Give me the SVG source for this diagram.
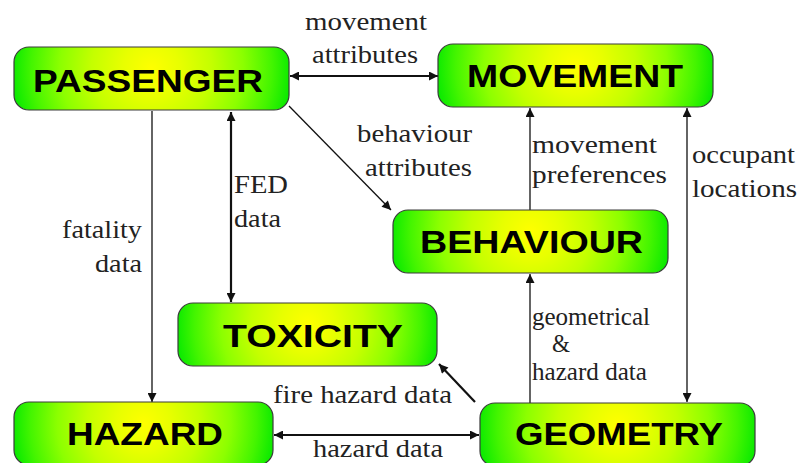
<svg xmlns="http://www.w3.org/2000/svg" width="799" height="463" viewBox="0 0 799 463">
<style>
.box{stroke:#3a3a3a;stroke-width:1.2;fill:url(#g)}
.nt{font-family:"Liberation Sans",Arial,sans-serif;font-weight:bold;font-size:32px;fill:#000}
.lb{font-family:"Liberation Serif","Times New Roman",serif;font-size:25px;fill:#222}
.c{fill:none;stroke:#111}
.t1{stroke-width:1.3}
.t2{stroke-width:2.2}
</style>
<defs>
<radialGradient id="g" cx="0.5" cy="0.08" r="0.52" gradientTransform="scale(1,4.3)">
<stop offset="0" stop-color="#ffff00"/>
<stop offset="0.2" stop-color="#e8ff00"/>
<stop offset="0.42" stop-color="#c4ff00"/>
<stop offset="0.64" stop-color="#8cff00"/>
<stop offset="0.84" stop-color="#44f500"/>
<stop offset="1" stop-color="#00e800"/>
</radialGradient>
<marker id="a" viewBox="0 0 10 10" refX="10" refY="5" markerWidth="12" markerHeight="9" markerUnits="userSpaceOnUse" orient="auto-start-reverse">
<path d="M0,0 L10,5 L0,10 z" fill="#111"/>
</marker>
</defs>
<g id="connectors">
<path class="c t2" d="M290,76 H438" marker-start="url(#a)" marker-end="url(#a)"/>
<path class="c t1" d="M289,106 L391,210" marker-end="url(#a)"/>
<path class="c t1" d="M152,111 V402" marker-end="url(#a)"/>
<path class="c t2" d="M231,112 V302" marker-start="url(#a)" marker-end="url(#a)"/>
<path class="c t1" d="M530,210 V108" marker-end="url(#a)"/>
<path class="c t1" d="M687,108 V402" marker-start="url(#a)" marker-end="url(#a)"/>
<path class="c t1" d="M530,403 V274" marker-end="url(#a)"/>
<path class="c t2" d="M475,402 L439,364" marker-end="url(#a)"/>
<path class="c t2" d="M274,435 H479" marker-start="url(#a)" marker-end="url(#a)"/>
</g>
<g id="labels">
<text class="lb" x="305" y="30" textLength="122" lengthAdjust="spacingAndGlyphs">movement</text>
<text class="lb" x="312" y="63" textLength="106" lengthAdjust="spacingAndGlyphs">attributes</text>
<text class="lb" x="357" y="142" textLength="115" lengthAdjust="spacingAndGlyphs">behaviour</text>
<text class="lb" x="365" y="176" textLength="107" lengthAdjust="spacingAndGlyphs">attributes</text>
<text class="lb" x="62" y="238" textLength="80" lengthAdjust="spacingAndGlyphs">fatality</text>
<text class="lb" x="95" y="272" textLength="47" lengthAdjust="spacingAndGlyphs">data</text>
<text class="lb" x="234" y="193" textLength="54" lengthAdjust="spacingAndGlyphs">FED</text>
<text class="lb" x="234" y="227" textLength="47" lengthAdjust="spacingAndGlyphs">data</text>
<text class="lb" x="532" y="153" textLength="125" lengthAdjust="spacingAndGlyphs">movement</text>
<text class="lb" x="532" y="183" textLength="135" lengthAdjust="spacingAndGlyphs">preferences</text>
<text class="lb" x="692" y="163" textLength="103" lengthAdjust="spacingAndGlyphs">occupant</text>
<text class="lb" x="692" y="197" textLength="105" lengthAdjust="spacingAndGlyphs">locations</text>
<text class="lb" x="532" y="325" textLength="118" lengthAdjust="spacingAndGlyphs">geometrical</text>
<text class="lb" x="552" y="352" textLength="18" lengthAdjust="spacingAndGlyphs">&amp;</text>
<text class="lb" x="532" y="380" textLength="115" lengthAdjust="spacingAndGlyphs">hazard data</text>
<text class="lb" x="273" y="403" textLength="179" lengthAdjust="spacingAndGlyphs">fire hazard data</text>
<text class="lb" x="313" y="457" textLength="130" lengthAdjust="spacingAndGlyphs">hazard data</text>
</g>
<g id="passenger">
<rect class="box" x="14" y="47" width="275" height="63" rx="15"/>
<text class="nt" x="33" y="92" textLength="230" lengthAdjust="spacingAndGlyphs">PASSENGER</text>
</g>
<g id="movement">
<rect class="box" x="438" y="44" width="275" height="63" rx="15"/>
<text class="nt" x="467" y="87" textLength="216" lengthAdjust="spacingAndGlyphs">MOVEMENT</text>
</g>
<g id="behaviour">
<rect class="box" x="393" y="210" width="275" height="63" rx="15"/>
<text class="nt" x="420" y="253" textLength="223" lengthAdjust="spacingAndGlyphs">BEHAVIOUR</text>
</g>
<g id="toxicity">
<rect class="box" x="178" y="303" width="259" height="63" rx="15"/>
<text class="nt" x="223" y="347" textLength="180" lengthAdjust="spacingAndGlyphs">TOXICITY</text>
</g>
<g id="hazard">
<rect class="box" x="14" y="402" width="259" height="63" rx="15"/>
<text class="nt" x="67" y="445" textLength="156" lengthAdjust="spacingAndGlyphs">HAZARD</text>
</g>
<g id="geometry">
<rect class="box" x="480" y="403" width="275" height="63" rx="15"/>
<text class="nt" x="515" y="445" textLength="208" lengthAdjust="spacingAndGlyphs">GEOMETRY</text>
</g>
</svg>
